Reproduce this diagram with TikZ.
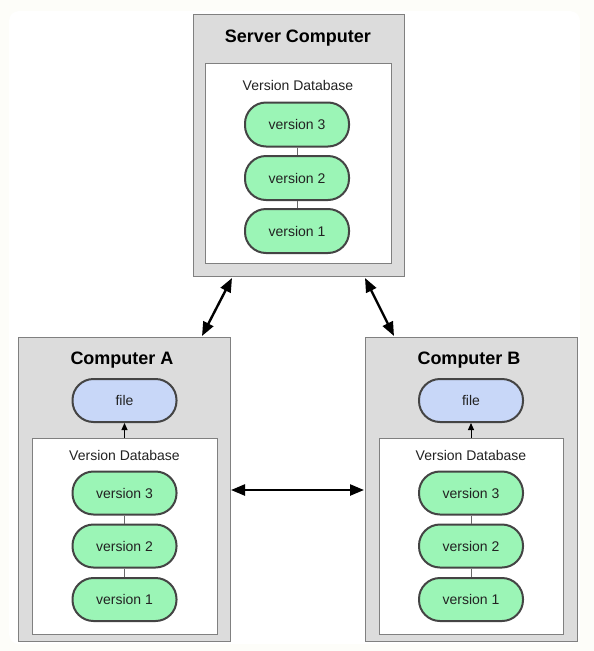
\documentclass[tikz,border=0pt]{standalone}
\usepackage{fontspec}
\setmainfont{Liberation Sans}
\usetikzlibrary{arrows.meta}
\definecolor{pagebg}{RGB}{253,253,249}
\definecolor{boxfill}{RGB}{220,220,220}
\definecolor{boxline}{RGB}{128,128,128}
\definecolor{pillgreen}{RGB}{155,245,182}
\definecolor{pillblue}{RGB}{200,215,248}
\definecolor{pillline}{RGB}{68,68,68}
\definecolor{labeltext}{RGB}{34,34,34}
\tikzset{
  machine/.style={draw=boxline, fill=boxfill, line width=1pt, inner sep=0pt},
  database/.style={draw=boxline, fill=white, line width=1pt, inner sep=0pt},
  title/.style={font=\fontsize{18}{20}\selectfont\bfseries, text=black},
  dblabel/.style={font=\fontsize{14}{16}\selectfont, text=labeltext},
  pill/.style={draw=pillline, line width=2pt, rounded corners=21pt,
    minimum width=104pt, minimum height=44pt, inner sep=0pt,
    font=\fontsize{14}{16}\selectfont, text=labeltext},
  versionpill/.style={pill, fill=pillgreen},
  filepill/.style={pill, fill=pillblue, minimum height=43pt},
  link/.style={draw=pillline!80, line width=0.8pt},
  sync/.style={line width=2.4pt, black,
    {Triangle[length=14pt,width=11pt]}-{Triangle[length=14pt,width=11pt]}},
  checkout/.style={line width=1pt, black, -{Triangle[length=7pt,width=6pt]}}
}
\begin{document}
\begin{tikzpicture}[x=1pt,y=-1pt]
  % page
  \useasboundingbox (0,0) rectangle (594,651);
  \fill[pagebg] (0,0) rectangle (594,651);
  \fill[white, rounded corners=10pt] (9,11) rectangle (580,644);

  % server
  \node[machine, minimum width=211pt, minimum height=262pt] (srv) at (298.5,145) {};
  \node[title] (srvtitle) at (298,38) {Server Computer};
  \node[database, minimum width=186pt, minimum height=200pt] (srvdb) at (298,163) {};
  \node[dblabel] (srvdblabel) at (298,85) {Version Database};
  \node[versionpill] (s3) at (297,124.5) {version 3};
  \node[versionpill] (s2) at (297,178) {version 2};
  \node[versionpill] (s1) at (297,231) {version 1};
  \draw[link] (s3) -- (s2);
  \draw[link] (s2) -- (s1);

  % computer A
  \node[machine, minimum width=212pt, minimum height=304pt] (ca) at (124,489) {};
  \node[title] (catitle) at (122,360) {Computer A};
  \node[filepill] (afile) at (124.5,400.5) {file};
  \node[database, minimum width=185pt, minimum height=196pt] (adb) at (124.5,536) {};
  \node[dblabel] (adblabel) at (124.5,455) {Version Database};
  \node[versionpill, minimum height=43pt] (a3) at (124.5,493) {version 3};
  \node[versionpill, minimum height=43pt] (a2) at (124.5,546) {version 2};
  \node[versionpill, minimum height=43pt] (a1) at (124.5,599.5) {version 1};
  \draw[link] (a3) -- (a2);
  \draw[link] (a2) -- (a1);
  \draw[checkout] (adb.north) -- (afile.south);

  % computer B
  \node[machine, minimum width=212pt, minimum height=304pt] (cb) at (471,489) {};
  \node[title] (cbtitle) at (469,360) {Computer B};
  \node[filepill] (bfile) at (471,400.5) {file};
  \node[database, minimum width=184pt, minimum height=196pt] (bdb) at (471,536) {};
  \node[dblabel] (bdblabel) at (471,455) {Version Database};
  \node[versionpill, minimum height=43pt] (b3) at (471,493) {version 3};
  \node[versionpill, minimum height=43pt] (b2) at (471,546) {version 2};
  \node[versionpill, minimum height=43pt] (b1) at (471,599.5) {version 1};
  \draw[link] (b3) -- (b2);
  \draw[link] (b2) -- (b1);
  \draw[checkout] (bdb.north) -- (bfile.south);

  % synchronisation between machines
  \coordinate (srvA) at (232,278);
  \coordinate (caS) at (202,336);
  \coordinate (srvB) at (365,278);
  \coordinate (cbS) at (394,336);
  \coordinate (caB) at (231,490);
  \coordinate (cbA) at (364,490);
  \draw[sync] (srvA) -- (caS);
  \draw[sync] (srvB) -- (cbS);
  \draw[sync] (caB) -- (cbA);
\end{tikzpicture}
\end{document}
